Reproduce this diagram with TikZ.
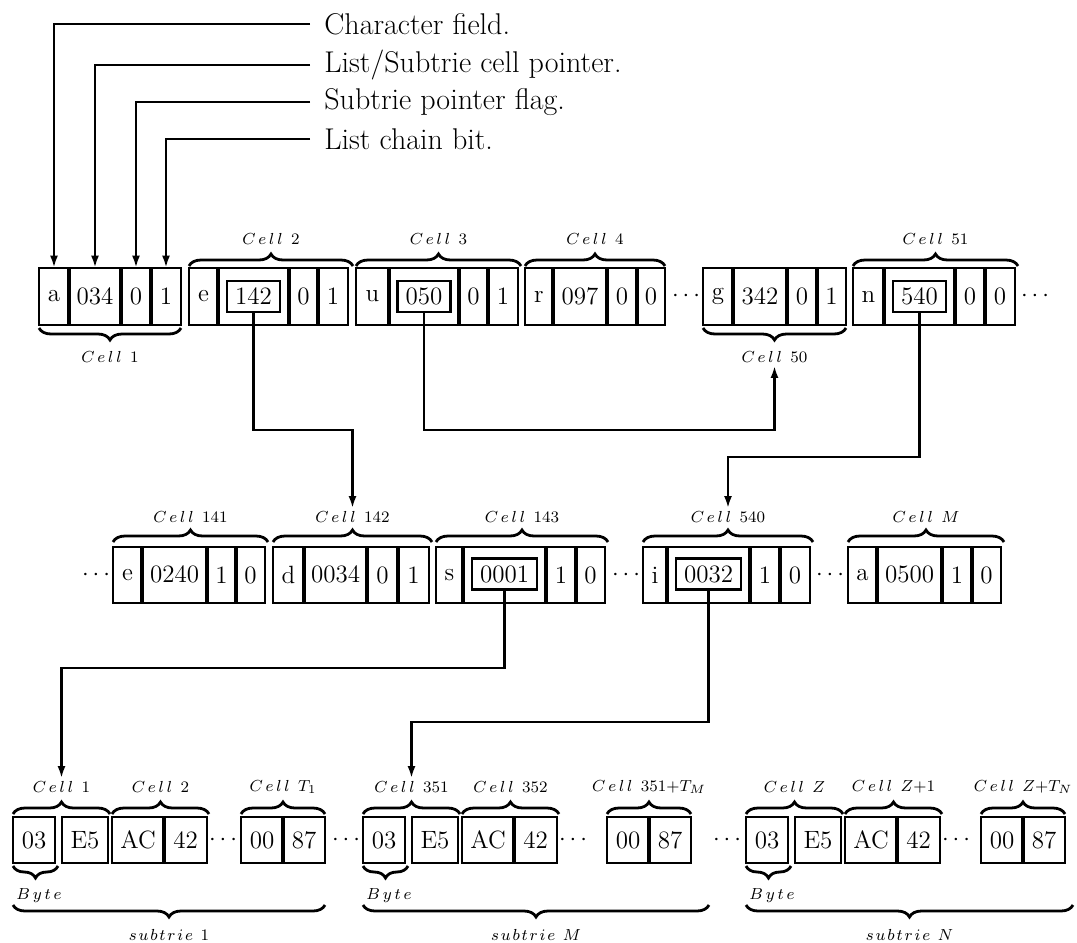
\documentclass[tikz,border=0pt]{standalone}
\usetikzlibrary{arrows.meta,decorations.pathreplacing}
\newcommand{\cname}[1]{$C\mskip3mu e\mskip3mu l\mskip3mu l\mskip9mu #1$}
\newcommand{\sname}[1]{$s\mskip2mu u\mskip2mu b\mskip2mu t\mskip2mu r\mskip2mu i\mskip2mu e\mskip8mu #1$}
\newcommand{\bname}{$B\mskip3mu y\mskip3mu t\mskip3mu e$}
\begin{document}
\begin{tikzpicture}[x=0.5pt, y=-0.5pt, every node/.style={inner sep=0pt},
  field/.style={font=\fontsize{12.5}{14}\selectfont, minimum height=28.5pt},
  ptrbox/.style={draw, line width=1.3pt, inner xsep=4pt, minimum height=15.5pt, font=\fontsize{12.5}{14}\selectfont},
  outl/.style={line width=1.3pt},
  divl/.style={line width=2pt},
  tag/.style={font=\fontsize{8}{9}\selectfont, inner sep=1.5pt},
  note/.style={font=\fontsize{15}{18}\selectfont, anchor=west, inner xsep=7pt},
  brc/.style={decorate, decoration={brace, amplitude=6pt}, line width=1.4pt},
  ptr/.style={line width=1.1pt, -{Latex[length=6pt,width=4pt]}}]
  \useasboundingbox (0,0) rectangle (1077,943);

  \node[note] (tchar) at (310,24) {Character field.};
  \node[note] (tptr) at (310,65) {List/Subtrie cell pointer.};
  \node[note] (tflag) at (310,102) {Subtrie pointer flag.};
  \node[note] (tbit) at (310,139) {List chain bit.};

  \foreach \n/\xa/\xb/\xc/\xd/\xe/\ch/\pt/\fl/\bt/\ps in {1/39/69/121/151/181/a/034/0/1/field,
      2/189/218/289/318/348/e/142/0/1/ptrbox, 3/356/389/459/488/518/u/050/0/1/ptrbox,
      4/525/553/607/637/665/r/097/0/0/field, 50/703/733/787/817/846/g/342/0/1/field,
      51/853/884/955/985/1015/n/540/0/0/ptrbox} {
    \draw[outl] (\xa,268) rectangle (\xe,325);
    \draw[divl] (\xb,268) -- (\xb,325) (\xc,268) -- (\xc,325) (\xd,268) -- (\xd,325);
    \node[field] (ch-\n) at ({(\xa+\xb)/2},296.5) {\ch};
    \node[\ps] (pt-\n) at ({(\xb+\xc)/2},296.5) {\pt};
    \node[field] (fl-\n) at ({(\xc+\xd)/2},296.5) {\fl};
    \node[field] (bt-\n) at ({(\xd+\xe)/2},296.5) {\bt};
  }
  \node[field] (dots-a) at (686,296.5) {$\cdots$};
  \node[field] (dots-b) at (1035,296.5) {$\cdots$};
  \foreach \n/\xa/\xb in {2/189/353, 3/356/521, 4/525/665, 51/853/1018} {
    \draw[brc] (\xa,266) -- (\xb,266);
    \node[tag] (c-\n) at ({(\xa+\xb)/2},239) {\cname{\n}};
  }
  \foreach \n/\xa/\xb in {1/39/181, 50/703/846} {
    \draw[brc] (\xb,328) -- (\xa,328);
    \node[tag] (c-\n) at ({(\xa+\xb)/2},357) {\cname{\n}};
  }

  \foreach \n/\xa/\xb/\xc/\xd/\xe/\ch/\pt/\fl/\bt/\ps in {141/113/142/207/236/265/e/0240/1/0/field,
      142/273/304/367/398/429/d/0034/0/1/field, 143/436/463/546/576/605/s/0001/1/0/ptrbox,
      540/643/667/750/780/810/i/0032/1/0/ptrbox, M/848/877/942/972/1001/a/0500/1/0/field} {
    \draw[outl] (\xa,547) rectangle (\xe,603);
    \draw[divl] (\xb,547) -- (\xb,603) (\xc,547) -- (\xc,603) (\xd,547) -- (\xd,603);
    \node[field] (ch-\n) at ({(\xa+\xb)/2},575) {\ch};
    \node[\ps] (pt-\n) at ({(\xb+\xc)/2},574) {\pt};
    \node[field] (fl-\n) at ({(\xc+\xd)/2},575) {\fl};
    \node[field] (bt-\n) at ({(\xd+\xe)/2},575) {\bt};
    \draw[brc] (\xa,542) -- (\xe+3,542);
    \node[tag] (c-\n) at ({(\xa+\xe+3)/2},517) {\cname{\n}};
  }
  \node[field] (dots-c) at (96,575) {$\cdots$};
  \node[field] (dots-d) at (626,575) {$\cdots$};
  \node[field] (dots-e) at (830,575) {$\cdots$};

  \foreach \s/\xo/\xl/\xe/\ca/\cb/\cc in {1/13/241/325/1/2/T_1, M/363/607/709/351/352/351{+}T_M,
      N/746/981/1073/Z/Z{+}1/Z{+}T_N} {
    \draw[outl] (\xo,817) rectangle ++(42,46);
    \draw[outl] (\xo+49,817) rectangle ++(46,46);
    \draw[outl] (\xo+99,817) rectangle ++(95,46);
    \draw[divl] (\xo+151,817) -- (\xo+151,863);
    \draw[outl] (\xl,817) rectangle ++(84,46);
    \draw[divl] (\xl+42,817) -- (\xl+42,863);
    \node[field] (ba-\s) at (\xo+21,840) {03};
    \node[field] (bb-\s) at (\xo+72,840) {E5};
    \node[field] (bc-\s) at (\xo+125,840) {AC};
    \node[field] (bd-\s) at (\xo+172.5,840) {42};
    \node[field] (dt-\s) at (\xo+210,840) {$\cdots$};
    \node[field] (be-\s) at (\xl+21,840) {00};
    \node[field] (bf-\s) at (\xl+63,840) {87};
    \draw[brc] (\xo,814) -- (\xo+97,814);
    \node[tag] (ca-\s) at (\xo+48.5,787) {\cname{\ca}};
    \draw[brc] (\xo+99,814) -- (\xo+196,814);
    \node[tag] (cb-\s) at (\xo+147.5,787) {\cname{\cb}};
    \draw[brc] (\xl,814) -- (\xl+84,814);
    \node[tag] (cc-\s) at (\xl+42,787) {\cname{\cc}};
    \draw[brc] (\xo+45,866) -- (\xo,866);
    \node[tag, anchor=west] (by-\s) at (\xo,896) {\bname};
    \draw[brc] (\xe,905) -- (\xo,905);
    \node[tag] (st-\s) at ({(\xo+\xe)/2},935) {\sname{\s}};
  }
  \node[field] (dots-f) at (346,840) {$\cdots$};
  \node[field] (dots-g) at (727,840) {$\cdots$};

  \draw[ptr] (tchar.west) -| (ch-1.north);
  \draw[ptr] (tptr.west) -| (pt-1.north);
  \draw[ptr] (tflag.west) -| (fl-1.north);
  \draw[ptr] (tbit.west) -| (bt-1.north);
  \draw[ptr] (pt-2.south) -- ++(0,117) -| (c-142.north);
  \draw[ptr] (pt-3.south) -- ++(0,117) -| (c-50.south);
  \draw[ptr] (pt-51.south) -- ++(0,144) -| (c-540.north);
  \draw[ptr] (pt-143.south) -- ++(0,77) -| (ca-1.north);
  \draw[ptr] (pt-540.south) -- ++(0,131) -| (ca-M.north);
\end{tikzpicture}
\end{document}
